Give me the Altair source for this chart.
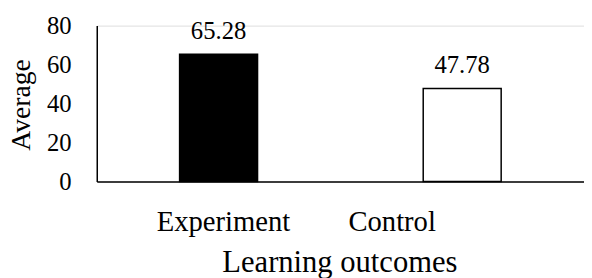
import altair as alt
import pandas as pd

categories = ["Experiment", "Control"]
values = [65.28, 47.78]
labels = ["65.28", "47.78"]
y_ticks = [0, 20, 40, 60, 80]

df = pd.DataFrame({"group": categories, "value": values, "label": labels})

FONT = "Liberation Serif"

x_enc = alt.X(
    "group:N",
    sort=categories,
    scale=alt.Scale(paddingInner=0.68, paddingOuter=0.34),
    axis=alt.Axis(
        title="Learning outcomes",
        titleFont=FONT,
        titleFontSize=31,
        titleFontWeight="normal",
        titleColor="black",
        titleX=246,
        titleY=91,
        titleBaseline="alphabetic",
        titleAlign="center",
        labelFont=FONT,
        labelFontSize=29,
        labelColor="black",
        labelAngle=0,
        labelBaseline="alphabetic",
        labelPadding=50,
        labelOverlap=False,
        labelOffset=alt.ExprRef(expr="datum.value == 'Control' ? -71 : 5"),
        ticks=False,
        tickSize=0,
        domain=True,
        domainColor="black",
        domainWidth=1.5,
        grid=False,
    ),
)

y_enc = alt.Y(
    "value:Q",
    scale=alt.Scale(domain=[0, 80], nice=False),
    axis=alt.Axis(
        title="Average",
        titleFont=FONT,
        titleFontSize=28,
        titleFontWeight="normal",
        titleColor="black",
        titleAngle=270,
        titleBaseline="alphabetic",
        titleAlign="center",
        titleX=-68,
        titleY=80,
        values=y_ticks,
        labelFont=FONT,
        labelFontSize=25,
        labelColor="black",
        labelPadding=26,
        labelOverlap=False,
        labelBaseline="middle",
        ticks=False,
        tickSize=0,
        domain=True,
        domainColor="black",
        domainWidth=1.5,
        grid=False,
    ),
)

base = alt.Chart(df).encode(x=x_enc, y=y_enc)

bars = base.mark_bar(stroke="black", strokeWidth=1.5).encode(
    color=alt.Color(
        "group:N",
        scale=alt.Scale(domain=categories, range=["#000000", "#ffffff"]),
        legend=None,
    ),
)

text = base.mark_text(
    font=FONT, fontSize=25, color="black", baseline="alphabetic", dy=-16
).encode(text="label:N")

chart = (
    alt.layer(bars, text)
    .properties(
        width=494,
        height=158,
        autosize=alt.AutoSizeParams(type="none"),
        padding={"left": 90, "top": 16, "right": 0, "bottom": 96},
    )
    .configure_view(stroke=None)
    .configure(background="white")
)

chart.save("out.html", embed_options={"renderer": "svg", "actions": False})
